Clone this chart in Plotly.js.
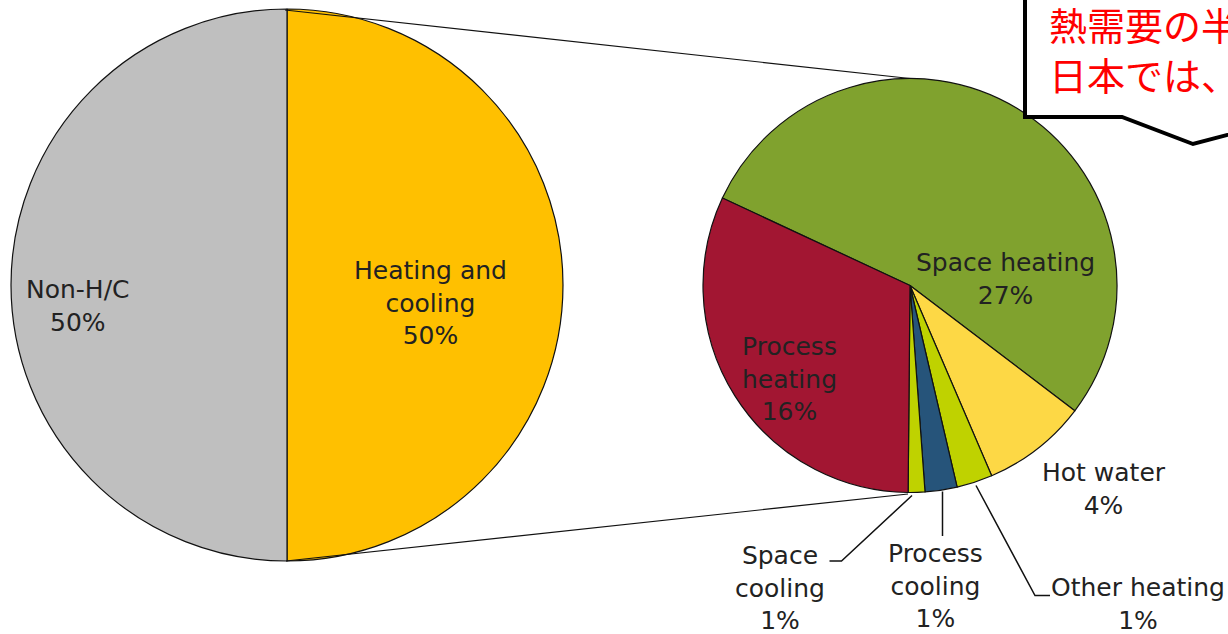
<!DOCTYPE html>
<html>
<head>
<meta charset="utf-8">
<script src="https://cdn.plot.ly/plotly-3.0.1.min.js"></script>
<style>html,body{margin:0;padding:0;background:#fff;}#chart{width:1228px;height:634px;}</style>
</head>
<body>
<div id="chart"></div>
<script>
// ---- data ----
const mainCategories = ["Heating and cooling", "Non-H/C"];
const mainValues = [50, 50];
const mainColors = ["#FFC000", "#BFBFBF"];
const mainDisplay = ["Heating and<br>cooling", "Non-H/C"];

const subCategories = ["Space heating", "Hot water", "Other heating", "Process cooling", "Space cooling", "Process heating"];
const subValues = [26.7, 4.1, 1.4, 1.25, 0.65, 15.9];
const subColors = ["#80A22E", "#FDD845", "#BFD200", "#26547A", "#BFD200", "#A21632"];
const subDisplay = ["Space heating", "Hot water", "Other heating", "Process<br>cooling", "Space<br>cooling", "Process<br>heating"];

const calloutLines = ["熱需要の半", "日本では、"];

// ---- layout helpers ----
const W = 1228, H = 634;
const px = x => x / W;
const py = y => 1 - y / H;
const FONT = "DejaVu Sans";
const TXT = "#222222";

function pct(v) { return Math.round(v) + "%"; }

const mainPie = {
  type: "pie",
  labels: mainCategories,
  values: mainValues,
  sort: false,
  direction: "clockwise",
  rotation: 0,
  marker: { colors: mainColors, line: { color: "#111", width: 1.2 } },
  textinfo: "none",
  hoverinfo: "label+percent",
  domain: { x: [px(11), px(563)], y: [py(561), py(9)] },
  showlegend: false
};

const subPie = {
  type: "pie",
  labels: subCategories,
  values: subValues,
  sort: false,
  direction: "clockwise",
  rotation: -65,
  marker: { colors: subColors, line: { color: "#111", width: 1.2 } },
  textinfo: "none",
  hoverinfo: "label+value",
  domain: { x: [px(703), px(1117)], y: [py(492.5), py(78.5)] },
  showlegend: false
};

// label positions (pixel centres)
const mainLabelPos = [[430, 303], [78, 306]];
const subLabelPos = [[1005, 279], [1104, 489], [1138, 604], [935, 585.5], [780, 588], [790, 379]];

const annotations = [];
function addLabel(text, p) {
  annotations.push({
    xref: "paper", yref: "paper", x: px(p[0]), y: py(p[1]),
    xanchor: "center", yanchor: "middle", showarrow: false,
    text: text, align: "center",
    font: { family: FONT, size: 25, color: TXT }
  });
}
mainDisplay.forEach((t, i) => addLabel(t + "<br>" + pct(mainValues[i]), mainLabelPos[i]));
subDisplay.forEach((t, i) => addLabel(t + "<br>" + pct(subValues[i]), subLabelPos[i]));

const calloutPos = [[1047, 24], [1047, 74]];
calloutLines.forEach((t, i) => annotations.push({
  xref: "paper", yref: "paper", x: px(calloutPos[i][0]), y: py(calloutPos[i][1]),
  xanchor: "left", yanchor: "middle", showarrow: false, text: t,
  font: { family: "Noto Sans CJK JP", size: 38, color: "#FF0000" }
}));

function line(pts, w) {
  return {
    type: "path", xref: "paper", yref: "paper", layer: "above",
    path: "M " + pts.map(p => px(p[0]) + "," + py(p[1])).join(" L "),
    line: { color: "#111", width: w || 1.2 }
  };
}

const shapes = [
  line([[285, 10], [910, 78.5]]),
  line([[286, 561], [908, 494]]),
  line([[912, 495.5], [841.5, 561], [829.5, 561]], 1.5),
  line([[942.5, 491.5], [942.5, 536]], 1.5),
  line([[976, 485.5], [1035, 595.5], [1050, 595.5]], 1.5),
  {
    type: "path", xref: "paper", yref: "paper", layer: "above",
    path: "M " + [[1025, -10], [1025, 117], [1122, 117], [1193, 144], [1250, 129], [1250, -10]]
      .map(p => px(p[0]) + "," + py(p[1])).join(" L ") + " Z",
    fillcolor: "#FFFFFF",
    line: { color: "#000", width: 4 }
  }
];

const layout = {
  width: W, height: H,
  margin: { l: 0, r: 0, t: 0, b: 0 },
  paper_bgcolor: "#FFFFFF",
  plot_bgcolor: "#FFFFFF",
  showlegend: false,
  shapes: shapes,
  annotations: annotations
};

Plotly.newPlot("chart", [mainPie, subPie], layout, { displayModeBar: false, staticPlot: true });
</script>
</body>
</html>
